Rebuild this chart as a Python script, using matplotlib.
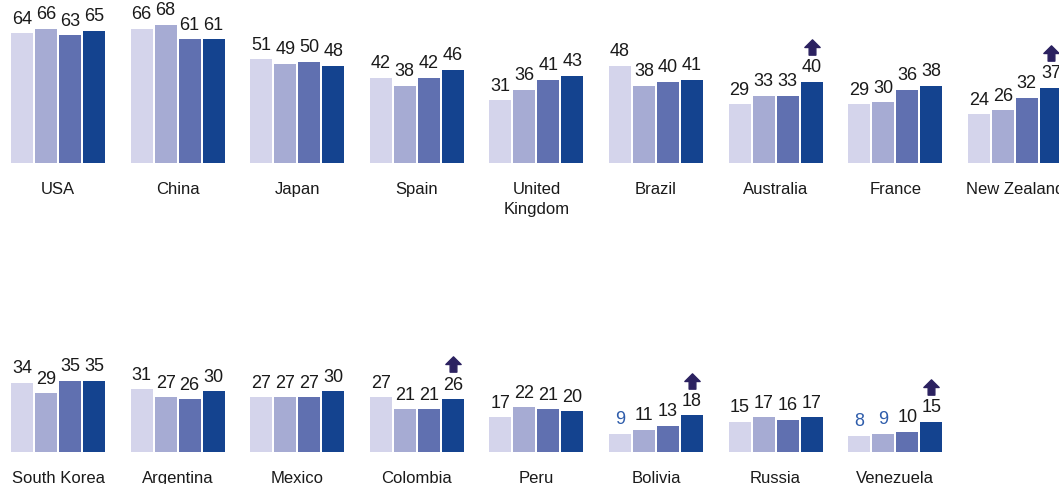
import matplotlib
matplotlib.use("Agg")
import matplotlib.pyplot as plt
from matplotlib.path import Path
import matplotlib.transforms as mtransforms

plt.rcParams['font.family'] = ['Liberation Sans Narrow', 'Liberation Sans', 'DejaVu Sans']

# data -------------------------------------------------
row1_names = ["USA", "China", "Japan", "Spain", "United\nKingdom", "Brazil",
              "Australia", "France", "New Zealand"]
row1_vals = [[64, 66, 63, 65], [66, 68, 61, 61], [51, 49, 50, 48], [42, 38, 42, 46],
             [31, 36, 41, 43], [48, 38, 40, 41], [29, 33, 33, 40], [29, 30, 36, 38],
             [24, 26, 32, 37]]
row1_up = ["Australia", "New Zealand"]

row2_names = ["South Korea", "Argentina", "Mexico", "Colombia", "Peru", "Bolivia",
              "Russia", "Venezuela"]
row2_vals = [[34, 29, 35, 35], [31, 27, 26, 30], [27, 27, 27, 30], [27, 21, 21, 26],
             [17, 22, 21, 20], [9, 11, 13, 18], [15, 17, 16, 17], [8, 9, 10, 15]]
row2_up = ["Colombia", "Bolivia", "Venezuela"]

# labels shown in blue (low base)
blue_labels = {("Bolivia", 0), ("Venezuela", 0), ("Venezuela", 1)}

colors = ["#d4d4eb", "#a6abd3", "#6070b0", "#14438f"]
arrow_col = "#2b2160"
blue_txt = "#2f5dab"

# up arrow marker
arrow = Path([(-0.5, 0), (0, 0.5), (0.5, 0), (0.22, 0), (0.22, -0.5),
              (-0.22, -0.5), (-0.22, 0), (-0.5, 0)],
             [Path.MOVETO] + [Path.LINETO] * 6 + [Path.CLOSEPOLY])

fig = plt.figure(figsize=(10.59, 4.84), dpi=100)

px = 119.6          # pixels per group
bw = 22 / px
step = 24 / px
x0 = -58 / px
xr = x0 + 1059 / px
yscale = 2.03       # pixels per unit


def draw_row(bottom_px, names, vals, ups):
    h = 80 * yscale / 484
    ax = fig.add_axes([0, bottom_px / 484, 1, h])
    ax.set_xlim(x0, xr)
    ax.set_ylim(0, 80)
    ax.axis("off")
    up_shift = ax.transData + mtransforms.ScaledTranslation(0, 25 / 72, fig.dpi_scale_trans)
    for i, (nm, v) in enumerate(zip(names, vals)):
        for j in range(4):
            x = i + (j - 1.5) * step
            ax.bar(x, v[j], width=bw, color=colors[j], clip_on=False)
            c = blue_txt if (nm, j) in blue_labels else "#1a1a1a"
            ax.annotate(str(v[j]), (x, v[j]), xytext=(0, 4), textcoords="offset points",
                        ha="center", va="bottom", fontsize=13, color=c,
                        annotation_clip=False)
        if nm in ups:
            x = i + 1.5 * step
            ax.plot([x], [v[3]], marker=arrow, markersize=11, color=arrow_col,
                    linestyle="none", clip_on=False, transform=up_shift)
        ax.annotate(nm, (i, 0), xytext=(0, -14), textcoords="offset points",
                    ha="center", va="top", fontsize=12, color="#1a1a1a",
                    linespacing=1.35, annotation_clip=False)
    return ax


draw_row(484 - 163, row1_names, row1_vals, row1_up)
draw_row(484 - 452, row2_names, row2_vals, row2_up)

fig.savefig("out.png", dpi=100)
